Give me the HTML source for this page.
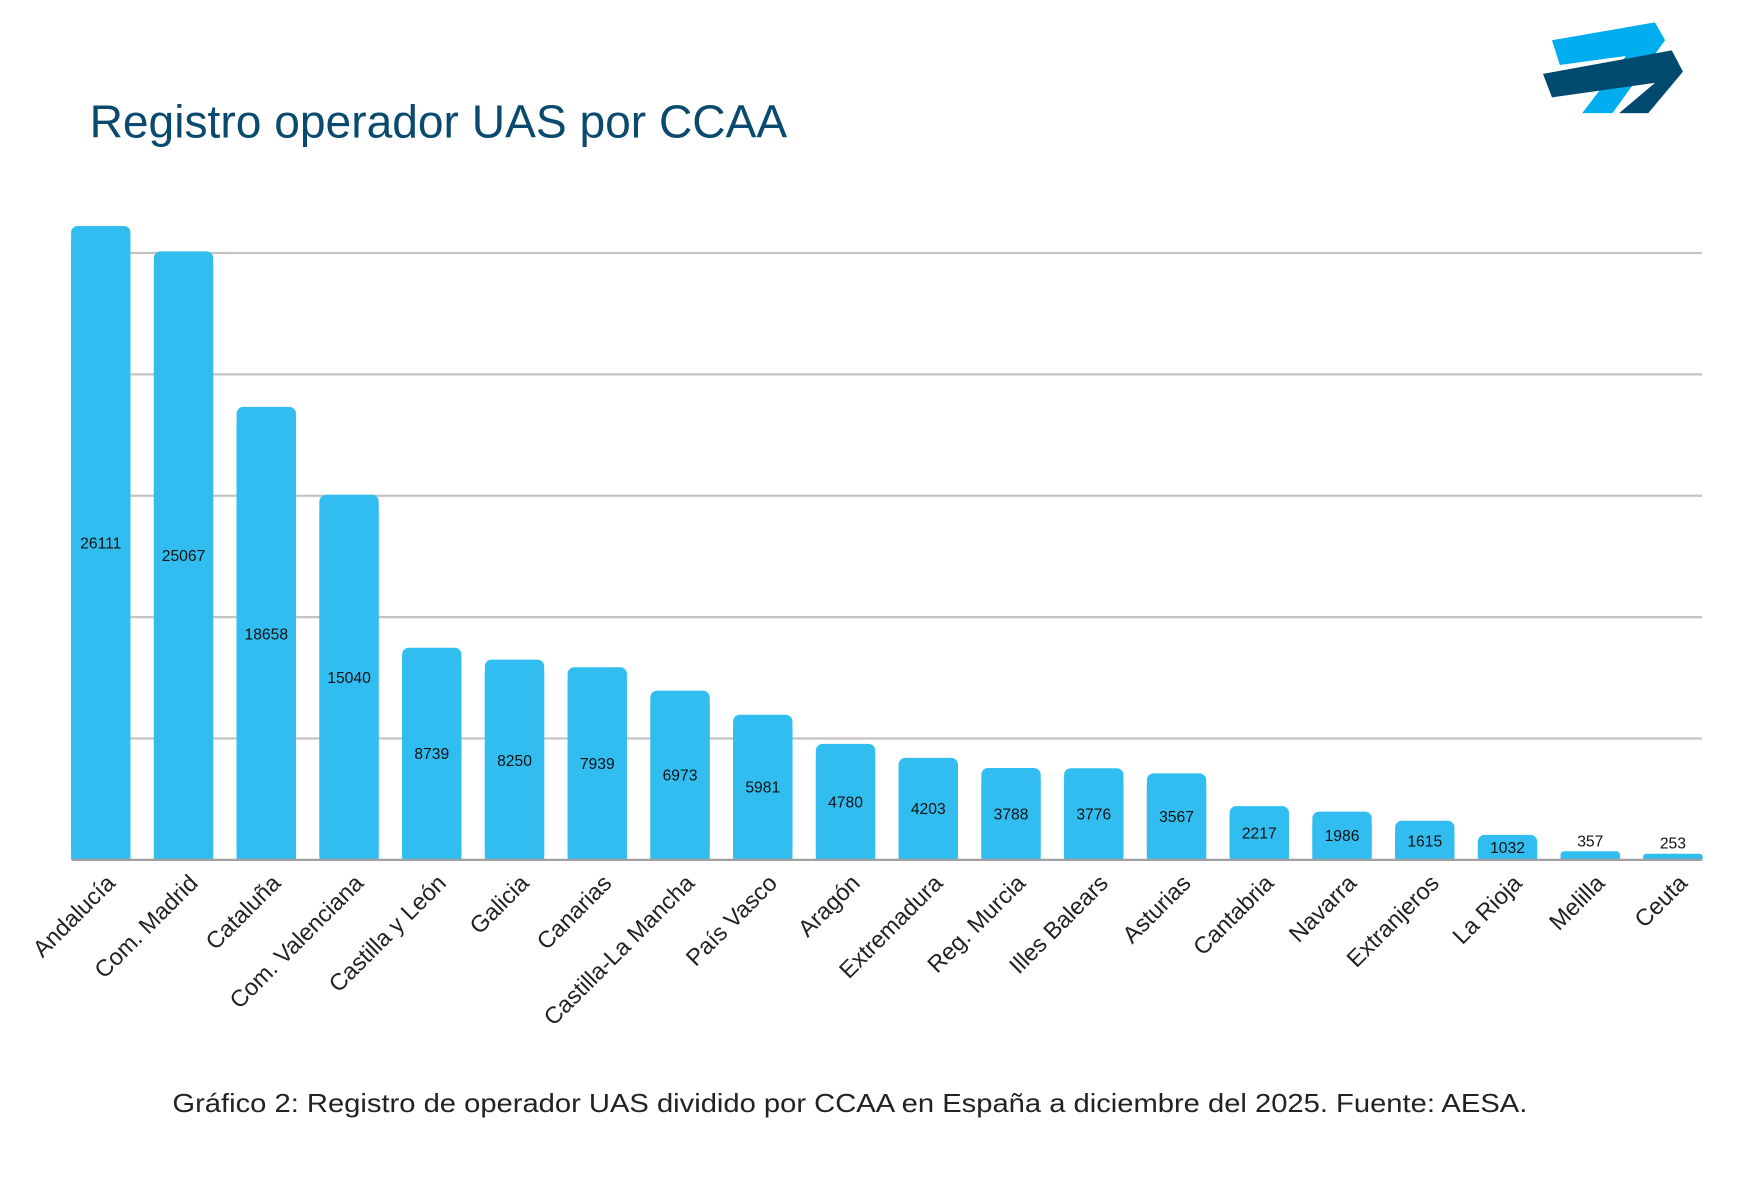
<!DOCTYPE html>
<html><head><meta charset="utf-8"><style>html,body{margin:0;padding:0;background:#fff}svg{display:block}</style></head>
<body>
<svg width="1758" height="1188" viewBox="0 0 1570 1061" preserveAspectRatio="none" xmlns="http://www.w3.org/2000/svg" font-family="Liberation Sans, sans-serif">
<text x="80" y="123" font-size="41" fill="#0b4a6f" textLength="623" lengthAdjust="spacingAndGlyphs">Registro operador UAS por CCAA</text>
<polygon points="1386,36 1478,20 1487,36 1440,101 1413,101 1452,50 1393,58" fill="#00aeef"/>
<polygon points="1378,66 1493,45 1503,64 1472,101 1446,101 1478,74 1386,87" fill="#004a6f"/>
<g stroke="#c4c4c4" stroke-width="2">
<line x1="64" x2="1520" y1="226" y2="226"/><line x1="64" x2="1520" y1="334.4" y2="334.4"/><line x1="64" x2="1520" y1="442.8" y2="442.8"/><line x1="64" x2="1520" y1="551.2" y2="551.2"/><line x1="64" x2="1520" y1="659.6" y2="659.6"/>
</g>
<g fill="#31bdf0">
<rect x="63.5" y="201.8" width="53" height="566.2" rx="6"/><rect x="63.5" y="215" width="53" height="553"/>
<rect x="137.4" y="224.5" width="53" height="543.5" rx="6"/><rect x="137.4" y="235" width="53" height="533"/>
<rect x="211.3" y="363.4" width="53" height="404.6" rx="6"/><rect x="211.3" y="375" width="53" height="393"/>
<rect x="285.2" y="441.9" width="53" height="326.1" rx="6"/><rect x="285.2" y="455" width="53" height="313"/>
<rect x="359.1" y="578.5" width="53" height="189.5" rx="6"/><rect x="359.1" y="590" width="53" height="178"/>
<rect x="433" y="589.1" width="53" height="178.9" rx="6"/><rect x="433" y="600" width="53" height="168"/>
<rect x="506.9" y="595.9" width="53" height="172.1" rx="6"/><rect x="506.9" y="607" width="53" height="161"/>
<rect x="580.8" y="616.8" width="53" height="151.2" rx="6"/><rect x="580.8" y="628" width="53" height="140"/>
<rect x="654.7" y="638.3" width="53" height="129.7" rx="6"/><rect x="654.7" y="650" width="53" height="118"/>
<rect x="728.6" y="664.4" width="53" height="103.6" rx="6"/><rect x="728.6" y="676" width="53" height="92"/>
<rect x="802.5" y="676.9" width="53" height="91.1" rx="6"/><rect x="802.5" y="688" width="53" height="80"/>
<rect x="876.4" y="685.9" width="53" height="82.1" rx="6"/><rect x="876.4" y="697" width="53" height="71"/>
<rect x="950.3" y="686.1" width="53" height="81.9" rx="6"/><rect x="950.3" y="697" width="53" height="71"/>
<rect x="1024.2" y="690.7" width="53" height="77.3" rx="6"/><rect x="1024.2" y="702" width="53" height="66"/>
<rect x="1098.1" y="719.9" width="53" height="48.1" rx="6"/><rect x="1098.1" y="731" width="53" height="37"/>
<rect x="1172" y="724.9" width="53" height="43.1" rx="6"/><rect x="1172" y="736" width="53" height="32"/>
<rect x="1245.9" y="733" width="53" height="35" rx="6"/><rect x="1245.9" y="744" width="53" height="24"/>
<rect x="1319.8" y="745.6" width="53" height="22.4" rx="6"/><rect x="1319.8" y="756" width="53" height="12"/>
<rect x="1393.7" y="760.3" width="53" height="7.7" rx="3"/><rect x="1393.7" y="764" width="53" height="4"/>
<rect x="1467.5" y="762.5" width="53" height="5.5" rx="2.5"/><rect x="1467.5" y="765" width="53" height="3"/>
</g>
<line x1="64" x2="1520" y1="768" y2="768" stroke="#a0a0a0" stroke-width="2"/>
<g font-size="14" fill="#111" text-anchor="middle">
<text x="90" y="490">26111</text><text x="163.9" y="501">25067</text><text x="237.8" y="571">18658</text><text x="311.7" y="610">15040</text><text x="385.6" y="678">8739</text><text x="459.5" y="684">8250</text><text x="533.4" y="687">7939</text><text x="607.3" y="697">6973</text><text x="681.2" y="708">5981</text><text x="755.1" y="721">4780</text><text x="829" y="727">4203</text><text x="902.9" y="732">3788</text><text x="976.8" y="732">3776</text><text x="1050.7" y="734">3567</text><text x="1124.6" y="749">2217</text><text x="1198.5" y="751">1986</text><text x="1272.4" y="756">1615</text><text x="1346.3" y="762">1032</text><text x="1420.2" y="756">357</text><text x="1494" y="758">253</text>
</g>
<g font-size="21" fill="#222" text-anchor="end">
<text transform="translate(104,790) rotate(-45)">Andalucía</text>
<text transform="translate(177.9,790) rotate(-45)">Com. Madrid</text>
<text transform="translate(251.8,790) rotate(-45)">Cataluña</text>
<text transform="translate(325.7,790) rotate(-45)">Com. Valenciana</text>
<text transform="translate(399.6,790) rotate(-45)">Castilla y León</text>
<text transform="translate(473.5,790) rotate(-45)">Galicia</text>
<text transform="translate(547.4,790) rotate(-45)">Canarias</text>
<text transform="translate(621.3,790) rotate(-45)">Castilla-La Mancha</text>
<text transform="translate(695.2,790) rotate(-45)">País Vasco</text>
<text transform="translate(769.1,790) rotate(-45)">Aragón</text>
<text transform="translate(843,790) rotate(-45)">Extremadura</text>
<text transform="translate(916.9,790) rotate(-45)">Reg. Murcia</text>
<text transform="translate(990.8,790) rotate(-45)">Illes Balears</text>
<text transform="translate(1064.7,790) rotate(-45)">Asturias</text>
<text transform="translate(1138.6,790) rotate(-45)">Cantabria</text>
<text transform="translate(1212.5,790) rotate(-45)">Navarra</text>
<text transform="translate(1286.4,790) rotate(-45)">Extranjeros</text>
<text transform="translate(1360.3,790) rotate(-45)">La Rioja</text>
<text transform="translate(1434.2,790) rotate(-45)">Melilla</text>
<text transform="translate(1508,790) rotate(-45)">Ceuta</text>
</g>
<text x="154" y="993" font-size="23" fill="#222" textLength="1210" lengthAdjust="spacingAndGlyphs">Gráfico 2: Registro de operador UAS dividido por CCAA en España a diciembre del 2025. Fuente: AESA.</text>
</svg>
</body></html>
